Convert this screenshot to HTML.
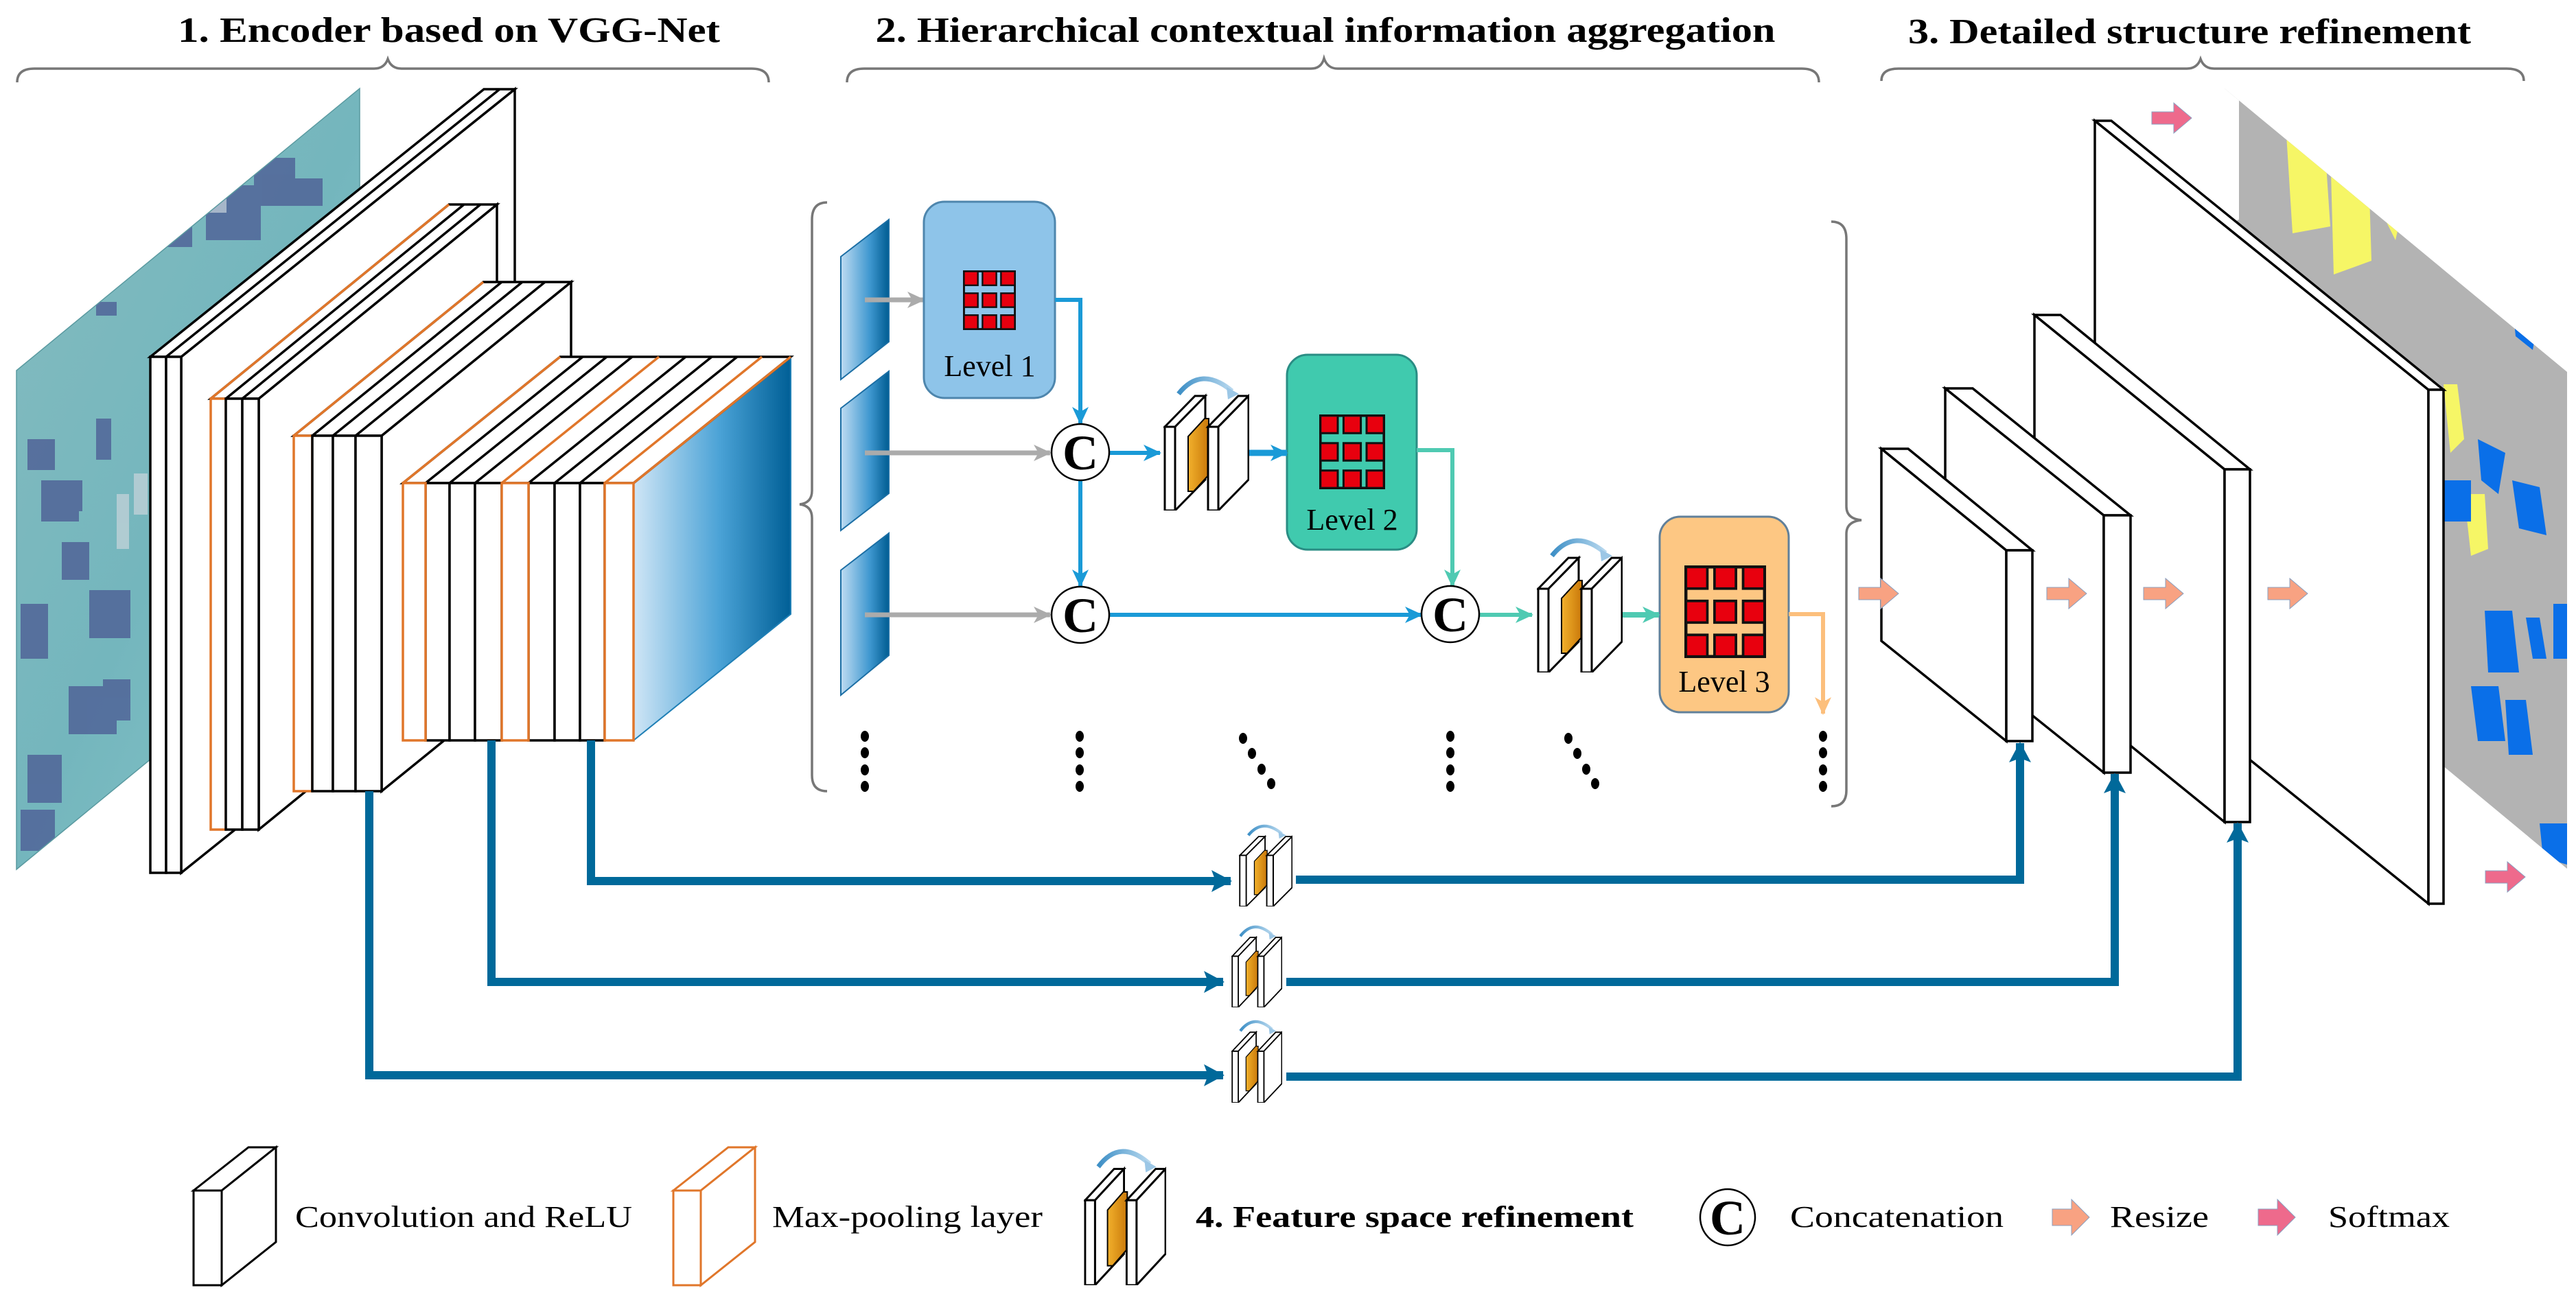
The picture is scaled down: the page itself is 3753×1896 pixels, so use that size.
<!DOCTYPE html>
<html><head><meta charset="utf-8"><style>
html,body{margin:0;padding:0;background:#fff;}
svg{display:block;}
text{font-family:"Liberation Serif",serif;}
</style></head><body>
<svg width="3753" height="1896" viewBox="0 0 3753 1896" xmlns="http://www.w3.org/2000/svg">
<defs>
<linearGradient id="gBlue" x1="0" x2="1" y1="0" y2="0"><stop offset="0" stop-color="#d0e6f6"/><stop offset="0.55" stop-color="#4aa2d6"/><stop offset="1" stop-color="#005f96"/></linearGradient>
<linearGradient id="gSlice" x1="0" x2="1" y1="0" y2="0"><stop offset="0" stop-color="#bfdcf2"/><stop offset="0.6" stop-color="#3f98d0"/><stop offset="1" stop-color="#005c92"/></linearGradient>
<linearGradient id="gOr" x1="0" x2="1"><stop offset="0" stop-color="#f2b12c"/><stop offset="1" stop-color="#c9780a"/></linearGradient>
<linearGradient id="gArc" x1="0" x2="1"><stop offset="0" stop-color="#3d8fc6"/><stop offset="1" stop-color="#b9d9ef"/></linearGradient>
<linearGradient id="gSat" x1="0" x2="1" y1="0" y2="1"><stop offset="0" stop-color="#86bcc0"/><stop offset="0.5" stop-color="#74b6bd"/><stop offset="1" stop-color="#8ac8cc"/></linearGradient>
<clipPath id="cSat"><polygon points="24,540 524,129 524,856 24,1267"/></clipPath>
<clipPath id="cSeg"><polygon points="3241,129 3740,542 3740,1266 3241,852"/></clipPath>
<marker id="mG" markerUnits="userSpaceOnUse" markerWidth="26" markerHeight="24" refX="24" refY="12" orient="auto"><path d="M0,0 L26,12 L0,24 L7,12 z" fill="#ababab"/></marker>
<marker id="mB" markerUnits="userSpaceOnUse" markerWidth="26" markerHeight="24" refX="24" refY="12" orient="auto"><path d="M0,0 L26,12 L0,24 L7,12 z" fill="#1a9ad7"/></marker>
<marker id="mT" markerUnits="userSpaceOnUse" markerWidth="26" markerHeight="24" refX="24" refY="12" orient="auto"><path d="M0,0 L26,12 L0,24 L7,12 z" fill="#4fcab2"/></marker>
<marker id="mO" markerUnits="userSpaceOnUse" markerWidth="26" markerHeight="24" refX="24" refY="12" orient="auto"><path d="M0,0 L26,12 L0,24 L7,12 z" fill="#fcbf7c"/></marker>
<marker id="mD" markerUnits="userSpaceOnUse" markerWidth="30" markerHeight="32" refX="28" refY="16" orient="auto"><path d="M0,0 L30,16 L0,32 L6,16 z" fill="#00699a"/></marker>
<symbol id="grid" viewBox="0 0 80 90" preserveAspectRatio="none">
<rect x="1.5" y="1.5" width="77" height="87" fill="none" stroke="#111" stroke-width="3"/>
<g fill="#e8000e" stroke="#111" stroke-width="2.5">
<rect x="1.5" y="1.5" width="21" height="21"/><rect x="29.5" y="1.5" width="21" height="21"/><rect x="57.5" y="1.5" width="21" height="21"/>
<rect x="1.5" y="34.5" width="21" height="21"/><rect x="29.5" y="34.5" width="21" height="21"/><rect x="57.5" y="34.5" width="21" height="21"/>
<rect x="1.5" y="67.5" width="21" height="21"/><rect x="29.5" y="67.5" width="21" height="21"/><rect x="57.5" y="67.5" width="21" height="21"/>
</g></symbol>
<symbol id="fsr" viewBox="0 0 125 200" preserveAspectRatio="none">
<path d="M22,30 Q55,-12 100,26" fill="none" stroke="url(#gArc)" stroke-width="7"/>
<path d="M92,20 L110,30 L94,38 z" fill="#9cc7e6"/>
<g stroke="#000" stroke-width="3" stroke-linejoin="miter">
<polygon points="2,78 46,33 61,33 17,78" fill="#fff"/>
<polygon points="17,78 61,33 61,155 17,200" fill="#fff"/>
<rect x="2" y="78" width="15" height="122" fill="#fff"/>
<polygon points="36,92 60,66 66,66 66,148 44,172 36,172" fill="url(#gOr)" stroke-width="2"/>
<polygon points="65,78 109,33 124,33 80,78" fill="#fff"/>
<polygon points="80,78 124,33 124,155 80,200" fill="#fff"/>
<rect x="65" y="78" width="15" height="122" fill="#fff"/>
</g></symbol>
</defs>

<!-- titles -->
<text x="654" y="61" font-size="52" font-weight="bold" text-anchor="middle" textLength="790" lengthAdjust="spacingAndGlyphs">1. Encoder based on VGG-Net</text>
<text x="1931" y="61" font-size="52" font-weight="bold" text-anchor="middle" textLength="1311" lengthAdjust="spacingAndGlyphs">2. Hierarchical contextual information aggregation</text>
<text x="3190" y="63" font-size="52" font-weight="bold" text-anchor="middle" textLength="820" lengthAdjust="spacingAndGlyphs">3. Detailed structure refinement</text>

<!-- braces -->
<g fill="none" stroke="#777" stroke-width="3.5">
<path d="M25,120 Q25,100 50,100 L545,100 Q560,100 565,86 Q570,100 585,100 L1095,100 Q1120,100 1120,120"/>
<path d="M1234,120 Q1234,100 1259,100 L1910,100 Q1925,100 1929,85 Q1934,100 1949,100 L2625,100 Q2650,100 2650,120"/>
<path d="M2741,118 Q2741,100 2766,100 L3186,100 Q3201,100 3206,86 Q3211,100 3226,100 L3652,100 Q3677,100 3677,118"/>
<path d="M1205,295 Q1183,295 1183,320 L1183,715 Q1183,733 1165,735 Q1183,737 1183,755 L1183,1130 Q1183,1153 1205,1153"/>
<path d="M2668,323 Q2690,323 2690,348 L2690,738 Q2690,756 2712,758 Q2690,760 2690,778 L2690,1152 Q2690,1175 2668,1175"/>
</g>

<!-- satellite input image -->
<g clip-path="url(#cSat)">
<rect x="0" y="100" width="560" height="1200" fill="url(#gSat)"/>
<g fill="#4e5f96" opacity="0.8">
<rect x="40" y="640" width="40" height="45"/><rect x="60" y="700" width="55" height="60"/><rect x="95" y="700" width="25" height="45"/>
<rect x="140" y="610" width="22" height="60"/><rect x="90" y="790" width="40" height="55"/><rect x="30" y="880" width="40" height="80"/>
<rect x="130" y="860" width="60" height="70"/><rect x="160" y="860" width="30" height="60"/><rect x="100" y="1000" width="70" height="70"/>
<rect x="150" y="990" width="40" height="60"/><rect x="40" y="1100" width="50" height="70"/><rect x="30" y="1180" width="50" height="60"/>
<rect x="300" y="270" width="80" height="80"/><rect x="370" y="230" width="60" height="70"/><rect x="230" y="330" width="50" height="30"/>
<rect x="140" y="440" width="30" height="20"/><rect x="420" y="260" width="50" height="40"/>
</g>
<g fill="#c9d4dc" opacity="0.7"><rect x="170" y="720" width="18" height="80"/><rect x="195" y="690" width="20" height="60"/><rect x="290" y="270" width="40" height="40"/></g>
</g>
<polygon points="24,540 524,129 524,856 24,1267" fill="none" stroke="#5a9aa0" stroke-width="1.5"/>

<!-- encoder blocks -->
<g stroke="#000" stroke-width="3.5" fill="#fff" stroke-linejoin="miter">
<!-- B1 -->
<polygon points="264,520 750,130 750,882 264,1272"/>
<polygon points="219,520 705,130 750,130 264,520"/>
<line x1="242" y1="520" x2="728" y2="130"/>
<rect x="219" y="520" width="23" height="752"/><rect x="242" y="520" width="22" height="752"/>
<!-- B2 -->
<polygon points="377,581 724,298 724,926 377,1209"/>
<polygon points="307,581 654,298 724,298 377,581"/>
<line x1="329" y1="581" x2="676" y2="298"/><line x1="353" y1="581" x2="700" y2="298"/>
<line x1="307" y1="581" x2="654" y2="298" stroke="#e0762a"/>
<rect x="307" y="581" width="22" height="628" stroke="#e0762a"/>
<rect x="329" y="581" width="24" height="628"/><rect x="353" y="581" width="24" height="628"/>
<!-- B3 -->
<polygon points="556,635 832,411 832,929 556,1153"/>
<polygon points="428,635 704,411 832,411 556,635"/>
<line x1="485" y1="635" x2="761" y2="411"/><line x1="518" y1="635" x2="794" y2="411"/><line x1="455" y1="635" x2="731" y2="411"/>
<line x1="428" y1="635" x2="704" y2="411" stroke="#e0762a"/>
<rect x="428" y="635" width="27" height="518" stroke="#e0762a"/>
<rect x="455" y="635" width="30" height="518"/><rect x="485" y="635" width="33" height="518"/><rect x="518" y="635" width="38" height="518"/>
<!-- B4 -->
<polygon points="923,704 1152,520 1152,895 923,1079" fill="url(#gBlue)" stroke="#1f7fb5" stroke-width="2"/>
<polygon points="587,704 816,520 1152,520 923,704"/>
<line x1="655" y1="704" x2="884" y2="520"/><line x1="692" y1="704" x2="921" y2="520"/>
<line x1="808" y1="704" x2="1037" y2="520"/><line x1="845" y1="704" x2="1074" y2="520"/>
<line x1="620" y1="704" x2="849" y2="520"/><line x1="770" y1="704" x2="999" y2="520"/>
<line x1="587" y1="704" x2="816" y2="520" stroke="#e0762a"/><line x1="731" y1="704" x2="960" y2="520" stroke="#e0762a"/><line x1="881" y1="704" x2="1110" y2="520" stroke="#e0762a"/>
<line x1="923" y1="704" x2="1152" y2="520" stroke="#e0762a"/>
<rect x="620" y="704" width="35" height="375"/><rect x="655" y="704" width="37" height="375"/><rect x="692" y="704" width="39" height="375"/>
<rect x="770" y="704" width="38" height="375"/><rect x="808" y="704" width="37" height="375"/><rect x="845" y="704" width="36" height="375"/>
<rect x="587" y="704" width="33" height="375" stroke="#e0762a"/><rect x="731" y="704" width="39" height="375" stroke="#e0762a"/><rect x="881" y="704" width="42" height="375" stroke="#e0762a"/>
</g>

<!-- middle feature slices -->
<g fill="url(#gSlice)" stroke="#1b6ea4" stroke-width="2">
<polygon points="1225,374 1295,320 1295,498 1225,553"/>
<polygon points="1225,595 1295,541 1295,719 1225,773"/>
<polygon points="1225,831 1295,777 1295,955 1225,1013"/>
</g>

<!-- gray arrows -->
<g stroke="#ababab" stroke-width="7" fill="none">
<line x1="1260" y1="437" x2="1346" y2="437" marker-end="url(#mG)"/>
<line x1="1260" y1="660" x2="1530" y2="660" marker-end="url(#mG)"/>
<line x1="1260" y1="896" x2="1530" y2="896" marker-end="url(#mG)"/>
</g>

<!-- level boxes -->
<rect x="1346" y="294" width="191" height="286" rx="30" fill="#8ec4e9" stroke="#4e86ad" stroke-width="3"/>
<use href="#grid" x="1403" y="394" width="77" height="87"/>
<text x="1442" y="548" font-size="44" text-anchor="middle">Level 1</text>
<rect x="1875" y="517" width="189" height="284" rx="30" fill="#40caae" stroke="#2a8d84" stroke-width="3"/>
<use href="#grid" x="1922" y="604" width="96" height="109"/>
<text x="1970" y="772" font-size="44" text-anchor="middle">Level 2</text>
<rect x="2418" y="753" width="188" height="285" rx="30" fill="#fdc783" stroke="#61809a" stroke-width="3"/>
<use href="#grid" x="2454" y="824" width="119" height="135"/>
<text x="2512" y="1008" font-size="44" text-anchor="middle">Level 3</text>

<!-- blue / teal / orange connectors -->
<g fill="none" stroke-width="6">
<path d="M1537,437 H1574 V617" stroke="#1a9ad7" marker-end="url(#mB)"/>
<path d="M1574,701 V854" stroke="#1a9ad7" marker-end="url(#mB)"/>
<path d="M1615,660 H1690" stroke="#1a9ad7" marker-end="url(#mB)"/>
<path d="M1800,660 H1875" stroke="#1a9ad7" marker-end="url(#mB)" stroke-width="9"/>
<path d="M1615,896 H2071" stroke="#1a9ad7" marker-end="url(#mB)"/>
<path d="M2064,656 H2116 V854" stroke="#4fcab2" marker-end="url(#mT)"/>
<path d="M2155,896 H2232" stroke="#4fcab2" marker-end="url(#mT)"/>
<path d="M2341,896 H2417" stroke="#4fcab2" marker-end="url(#mT)" stroke-width="8"/>
<path d="M2606,895 H2656 V1040" stroke="#fcbf7c" marker-end="url(#mO)"/>
</g>

<!-- C circles -->
<g fill="#fff" stroke="#000" stroke-width="2.5">
<ellipse cx="1574" cy="659" rx="42" ry="41"/><ellipse cx="1574" cy="896" rx="42" ry="41"/><ellipse cx="2113" cy="895" rx="42" ry="41"/>
</g>
<g font-size="72" font-weight="bold" text-anchor="middle">
<text x="1574" y="684">C</text><text x="1574" y="921">C</text><text x="2113" y="920">C</text>
</g>

<!-- mid FSR icons -->
<use href="#fsr" x="1695" y="544" width="125" height="200"/>
<use href="#fsr" x="2239" y="780" width="125" height="200"/>

<!-- dots -->
<g fill="#000">
<ellipse cx="1260" cy="1073" rx="6" ry="8"/><ellipse cx="1260" cy="1097" rx="6" ry="8"/><ellipse cx="1260" cy="1122" rx="6" ry="8"/><ellipse cx="1260" cy="1146" rx="6" ry="8"/>
<ellipse cx="1573" cy="1073" rx="6" ry="8"/><ellipse cx="1573" cy="1097" rx="6" ry="8"/><ellipse cx="1573" cy="1122" rx="6" ry="8"/><ellipse cx="1573" cy="1146" rx="6" ry="8"/>
<ellipse cx="2113" cy="1073" rx="6" ry="8"/><ellipse cx="2113" cy="1097" rx="6" ry="8"/><ellipse cx="2113" cy="1122" rx="6" ry="8"/><ellipse cx="2113" cy="1146" rx="6" ry="8"/>
<ellipse cx="2656" cy="1073" rx="6" ry="8"/><ellipse cx="2656" cy="1097" rx="6" ry="8"/><ellipse cx="2656" cy="1122" rx="6" ry="8"/><ellipse cx="2656" cy="1146" rx="6" ry="8"/>
<ellipse cx="1811" cy="1076" rx="6" ry="8"/><ellipse cx="1824" cy="1098" rx="6" ry="8"/><ellipse cx="1838" cy="1121" rx="6" ry="8"/><ellipse cx="1852" cy="1142" rx="6" ry="8"/>
<ellipse cx="2285" cy="1076" rx="6" ry="8"/><ellipse cx="2298" cy="1098" rx="6" ry="8"/><ellipse cx="2311" cy="1121" rx="6" ry="8"/><ellipse cx="2324" cy="1142" rx="6" ry="8"/>
</g>

<!-- segmentation map -->
<g clip-path="url(#cSeg)">
<rect x="3230" y="120" width="520" height="1160" fill="#b3b3b3"/>
<polygon points="3241,129 3262,129 3262,320 3241,330" fill="#fff"/>
<g fill="#f6f666">
<polygon points="3330,180 3385,180 3395,330 3340,340"/><polygon points="3395,215 3450,220 3455,380 3400,400"/>
<polygon points="3465,300 3500,305 3490,350"/><polygon points="3560,560 3580,560 3590,640 3570,660"/>
<polygon points="3590,720 3620,720 3625,800 3600,810"/>
</g>
<g fill="#0a6fe8">
<polygon points="3660,440 3700,450 3690,510 3665,490"/><polygon points="3610,640 3650,660 3640,720 3615,700"/>
<polygon points="3660,700 3700,710 3710,780 3670,770"/><polygon points="3620,890 3660,890 3670,980 3625,980"/>
<polygon points="3680,900 3700,900 3710,960 3690,960"/><polygon points="3720,880 3740,880 3740,960 3720,960"/>
<polygon points="3600,1000 3640,1000 3650,1080 3610,1080"/><polygon points="3650,1020 3680,1020 3690,1100 3655,1100"/>
<polygon points="3700,1200 3740,1200 3740,1260 3705,1250"/><polygon points="3560,700 3600,700 3600,760 3560,760"/>
</g>
</g>

<!-- decoder blocks -->
<g stroke="#000" stroke-width="3.5" fill="#fff">
<polygon points="3052,176 3538,568 3538,1317 3052,925"/>
<polygon points="3052,176 3076,176 3560,568 3538,568"/>
<rect x="3538" y="568" width="22" height="749"/>
<polygon points="2964,459 3241,684 3241,1198 2964,973"/>
<polygon points="2964,459 3002,459 3278,684 3241,684"/>
<rect x="3241" y="684" width="37" height="514"/>
<polygon points="2834,566 3065,751 3065,1126 2834,941"/>
<polygon points="2834,566 2874,566 3104,751 3065,751"/>
<rect x="3065" y="751" width="39" height="375"/>
<polygon points="2741,654 2923,802 2923,1080 2741,934"/>
<polygon points="2741,654 2780,654 2961,802 2923,802"/>
<rect x="2923" y="802" width="38" height="278"/>
</g>

<!-- resize arrows -->
<g fill="#f8a282" stroke="#8aa0c0" stroke-width="1">
<path d="M2708,856 H2740 V843 L2766,865 L2740,887 V874 H2708 z"/>
<path d="M2982,856 H3014 V843 L3040,865 L3014,887 V874 H2982 z"/>
<path d="M3123,856 H3155 V843 L3181,865 L3155,887 V874 H3123 z"/>
<path d="M3304,856 H3336 V843 L3362,865 L3336,887 V874 H3304 z"/>
</g>
<g fill="#ee6a8c" stroke="#8aa0c0" stroke-width="1">
<path d="M3135,163 H3167 V150 L3193,172 L3167,194 V181 H3135 z"/>
<path d="M3621,1269 H3653 V1256 L3679,1278 L3653,1300 V1287 H3621 z"/>
</g>

<!-- skip connections -->
<g fill="none" stroke="#00699a" stroke-linejoin="miter">
<path d="M861,1079 V1284 H1793" stroke-width="12" marker-end="url(#mD)"/>
<path d="M716,1079 V1431 H1782" stroke-width="12" marker-end="url(#mD)"/>
<path d="M538,1153 V1567 H1782" stroke-width="12" marker-end="url(#mD)"/>
<path d="M1883,1282 H2943 V1083" stroke-width="12" marker-end="url(#mD)"/>
<path d="M1868,1431 H3081 V1128" stroke-width="12" marker-end="url(#mD)"/>
<path d="M1868,1569 H3260 V1200" stroke-width="12" marker-end="url(#mD)"/>
</g>
<rect x="1796" y="1200" width="92" height="125" fill="#fff"/>
<rect x="1786" y="1347" width="88" height="125" fill="#fff"/>
<rect x="1786" y="1485" width="88" height="125" fill="#fff"/>
<use href="#fsr" x="1805" y="1199" width="78" height="122"/>
<use href="#fsr" x="1794" y="1346" width="74" height="122"/>
<use href="#fsr" x="1794" y="1484" width="74" height="123"/>

<!-- legend -->
<g stroke="#000" stroke-width="3" fill="#fff">
<polygon points="282,1735 362,1672 402,1672 323,1735"/>
<polygon points="323,1735 402,1672 402,1810 323,1873"/>
<rect x="282" y="1735" width="41" height="138"/>
</g>
<g stroke="#e0762a" stroke-width="3" fill="#fff">
<polygon points="981,1735 1061,1672 1100,1672 1021,1735"/>
<polygon points="1021,1735 1100,1672 1100,1810 1021,1873"/>
<rect x="981" y="1735" width="40" height="138"/>
</g>
<use href="#fsr" x="1579" y="1670" width="120" height="203"/>
<g font-size="44">
<text x="430" y="1788" textLength="491" lengthAdjust="spacingAndGlyphs">Convolution and ReLU</text>
<text x="1125" y="1788" textLength="394" lengthAdjust="spacingAndGlyphs">Max-pooling layer</text>
<text x="1742" y="1788" font-weight="bold" textLength="638" lengthAdjust="spacingAndGlyphs">4. Feature space refinement</text>
<text x="2608" y="1788" textLength="311" lengthAdjust="spacingAndGlyphs">Concatenation</text>
<text x="3074" y="1788" textLength="144" lengthAdjust="spacingAndGlyphs">Resize</text>
<text x="3392" y="1788" textLength="177" lengthAdjust="spacingAndGlyphs">Softmax</text>
</g>
<ellipse cx="2517" cy="1774" rx="40" ry="41" fill="#fff" stroke="#000" stroke-width="2.5"/>
<text x="2517" y="1799" font-size="72" font-weight="bold" text-anchor="middle">C</text>
<path d="M2990,1762 H3018 V1748 L3044,1774 L3018,1800 V1786 H2990 z" fill="#f8a282" stroke="#8aa0c0" stroke-width="1"/>
<path d="M3290,1762 H3318 V1748 L3344,1774 L3318,1800 V1786 H3290 z" fill="#ee6a8c" stroke="#8aa0c0" stroke-width="1"/>
</svg>
</body></html>
